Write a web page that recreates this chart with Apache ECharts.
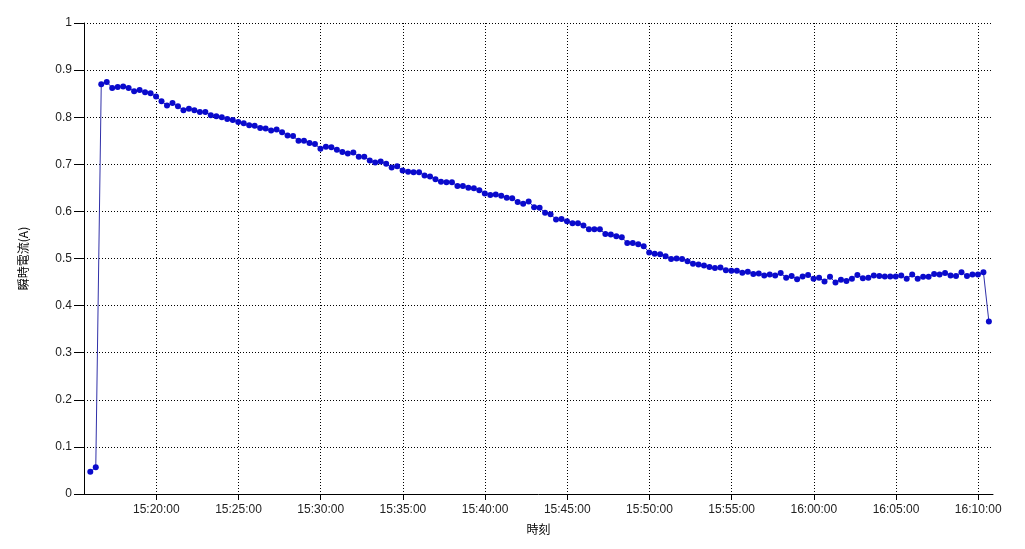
<!DOCTYPE html>
<html>
<head>
<meta charset="utf-8">
<script src="https://cdn.jsdelivr.net/npm/echarts@6/dist/echarts.min.js"></script>
<style>
html,body{margin:0;padding:0;background:#fff;}
#chart{width:1025px;height:549px;}
</style>
</head>
<body>
<div id="chart"></div>
<script>
// Sample times (HH:MM:SS)
var times = [
"15:15:59",
"15:16:19","15:16:39","15:16:59","15:17:19","15:17:39","15:17:59","15:18:19","15:18:39","15:18:59",
"15:19:19","15:19:39","15:19:59","15:20:19","15:20:39","15:20:59","15:21:19","15:21:39","15:21:59",
"15:22:19","15:22:39","15:22:59","15:23:19","15:23:39","15:23:59","15:24:19","15:24:39","15:24:59",
"15:25:19","15:25:39","15:25:59","15:26:19","15:26:39","15:26:59","15:27:19","15:27:39","15:27:59",
"15:28:19","15:28:39","15:28:59","15:29:19","15:29:39","15:29:59","15:30:19","15:30:39","15:30:59",
"15:31:19","15:31:39","15:31:59","15:32:19","15:32:39","15:32:59","15:33:19","15:33:39","15:33:59",
"15:34:19","15:34:39","15:34:59","15:35:19","15:35:39","15:35:59","15:36:19","15:36:39","15:36:59",
"15:37:19","15:37:39","15:37:59","15:38:19","15:38:39","15:38:59","15:39:19","15:39:39","15:39:59",
"15:40:19","15:40:39","15:40:59","15:41:19","15:41:39","15:41:59","15:42:19","15:42:39","15:42:59",
"15:43:19","15:43:39","15:43:59","15:44:19","15:44:39","15:44:59","15:45:19","15:45:39","15:45:59",
"15:46:19","15:46:39","15:46:59","15:47:19","15:47:39","15:47:59","15:48:19","15:48:39","15:48:59",
"15:49:19","15:49:39","15:49:59","15:50:19","15:50:39","15:50:59","15:51:19","15:51:39","15:51:59",
"15:52:19","15:52:39","15:52:59","15:53:19","15:53:39","15:53:59","15:54:19","15:54:39","15:54:59",
"15:55:19","15:55:39","15:55:59","15:56:19","15:56:39","15:56:59","15:57:19","15:57:39","15:57:59",
"15:58:19","15:58:39","15:58:59","15:59:19","15:59:39","15:59:59","16:00:19","16:00:39","16:00:59",
"16:01:19","16:01:39","16:01:59","16:02:19","16:02:39","16:02:59","16:03:19","16:03:39","16:03:59",
"16:04:19","16:04:39","16:04:59","16:05:19","16:05:39","16:05:59","16:06:19","16:06:39","16:06:59",
"16:07:19","16:07:39","16:07:59","16:08:19","16:08:39","16:08:59","16:09:19","16:09:39","16:09:59",
"16:10:19","16:10:39"
];

// Instantaneous current (A)
var current = [
0.047,0.057,
0.870,0.875,0.862,0.864,0.865,0.862,0.855,0.858,0.853,0.851,
0.844,0.834,0.825,0.830,0.823,0.815,0.818,0.815,0.811,0.811,
0.804,0.802,0.800,0.796,0.794,0.790,0.787,
0.783,0.782,0.777,0.776,0.772,0.774,0.768,0.761,0.760,0.750,
0.750,0.745,0.743,0.733,0.737,0.736,0.731,0.726,0.723,0.725,
0.716,0.716,0.708,0.704,0.706,0.701,0.693,
0.696,0.687,0.684,0.683,0.683,0.676,0.674,0.668,0.663,0.662,
0.662,0.654,0.654,0.650,0.649,0.645,0.638,0.635,0.636,0.633,
0.629,0.628,0.620,0.616,0.621,0.609,0.608,
0.597,0.594,0.583,0.584,0.579,0.575,0.575,0.570,0.562,0.562,
0.562,0.552,0.551,0.547,0.545,0.533,0.533,0.530,0.526,0.513,
0.510,0.509,0.505,0.499,0.500,0.499,0.494,
0.489,0.487,0.485,0.482,0.480,0.481,0.475,0.474,0.474,0.470,
0.472,0.467,0.468,0.464,0.466,0.464,0.469,0.459,0.463,0.456,
0.462,0.465,0.457,0.459,0.451,0.461,0.449,0.455,
0.452,0.457,0.465,0.458,0.459,0.464,0.463,0.462,0.462,0.462,
0.464,0.457,0.466,0.457,0.461,0.461,0.467,0.466,0.469,0.464,
0.463,0.471,0.463,0.466,0.466,0.471,0.366
];

// X tick labels
var xTicks = ["15:20:00","15:25:00","15:30:00","15:35:00","15:40:00","15:45:00",
              "15:50:00","15:55:00","16:00:00","16:05:00","16:10:00"];
var xMin = "15:15:36", xMax = "16:10:54";

function toSec(s){ var p = s.split(":"); return (+p[0])*3600 + (+p[1])*60 + (+p[2]); }
function pad(n){ return (n<10?"0":"") + n; }
function fmt(v){ v = Math.round(v); var h=Math.floor(v/3600), m=Math.floor((v%3600)/60), s=v%60; return pad(h)+":"+pad(m)+":"+pad(s); }

var seriesData = times.map(function(t,i){ return [toSec(t), current[i]]; });
var tickVals = xTicks.map(toSec);

var chart = echarts.init(document.getElementById('chart'));
var labelFont = {color:'#222', fontSize:12, fontFamily:'Liberation Sans, Arial, sans-serif'};
chart.setOption({
  animation:false,
  backgroundColor:'#fff',
  grid:{left:84, right:32, top:23, bottom:55, containLabel:false},
  xAxis:{
    type:'value', min:toSec(xMin), max:toSec(xMax),
    name:'時刻', nameLocation:'middle', nameGap:29,
    nameTextStyle:{color:'#000', fontSize:12, fontFamily:'Noto Sans CJK JP, sans-serif'},
    axisLine:{show:true, onZero:false, lineStyle:{color:'#000', width:1}},
    axisTick:{show:true, length:6, customValues:tickVals, lineStyle:{color:'#000'}},
    axisLabel:Object.assign({customValues:tickVals, margin:10, formatter:function(v){return fmt(v);}}, labelFont),
    splitLine:{show:true, lineStyle:{color:'#000', type:[1,2], width:1}}
  },
  yAxis:{
    type:'value', min:0, max:1, interval:0.1,
    name:'瞬時電流(A)', nameLocation:'middle', nameGap:55,
    nameTextStyle:{color:'#000', fontSize:12, fontFamily:'Noto Sans CJK JP, sans-serif'},
    axisLine:{show:true, lineStyle:{color:'#000', width:1}},
    axisTick:{show:true, length:10, lineStyle:{color:'#000'}},
    axisLabel:Object.assign({margin:12}, labelFont),
    splitLine:{show:true, lineStyle:{color:'#000', type:[1,2], width:1}}
  },
  series:[{
    type:'line',
    data:seriesData,
    symbol:'circle', symbolSize:6, showAllSymbol:true,
    lineStyle:{color:'#3030a8', width:1},
    itemStyle:{color:'#0a0acc'},
    emphasis:{disabled:true}
  }]
});
</script>
</body>
</html>
